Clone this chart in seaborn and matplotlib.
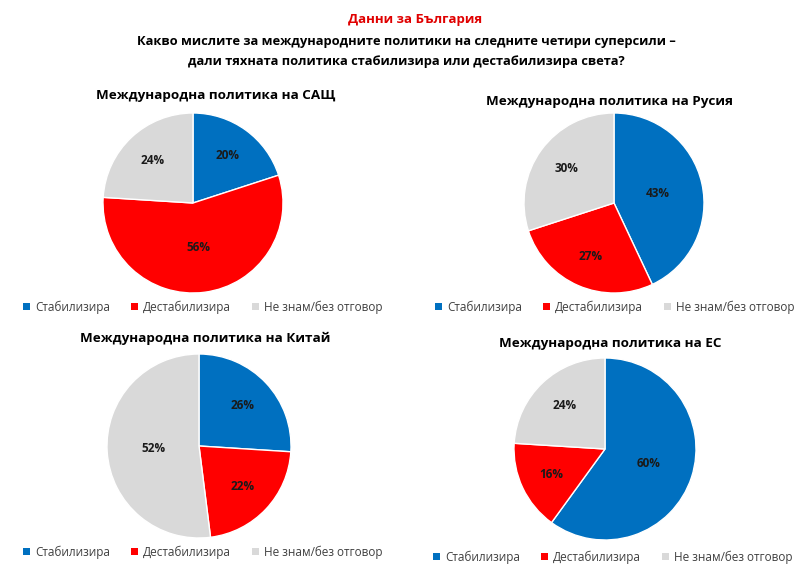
import matplotlib
matplotlib.use("Agg")
import matplotlib.pyplot as plt
import seaborn as sns
from matplotlib.patches import Patch

sns.set_theme(style="white")
plt.rcParams['font.family'] = ['Open Sans', 'DejaVu Sans']
plt.rcParams['text.color'] = 'black'

# данни
categories = ["Стабилизира", "Дестабилизира", "Не знам/без отговор"]
usa = [20, 56, 24]
russia = [43, 27, 30]
china = [26, 22, 52]
eu = [60, 16, 24]
titles = ["Международна политика на САЩ", "Международна политика на Русия",
          "Международна политика на Китай", "Международна политика на ЕС"]
colors = ["#0070C0", "#FF0000", "#D9D9D9"]

W, H = 809, 585
fig = plt.figure(figsize=(W / 100, H / 100), dpi=100)

fig.text(415 / W, 1 - 19 / H, "Данни за България", color="#E00000",
         fontsize=9.5, fontweight="bold", ha="center", va="center")
fig.text(406 / W, 1 - 42 / H, "Какво мислите за международните политики на следните четири суперсили –",
         fontsize=9.3, fontweight="bold", ha="center", va="center")
fig.text(406 / W, 1 - 62 / H, "дали тяхната политика стабилизира или дестабилизира света?",
         fontsize=9.3, fontweight="bold", ha="center", va="center")

# (cx, cy, r, title y, title x, legend y, legend x)
panels = [
    (usa, 193, 203, 90, 95, 216, 307, 203),
    (russia, 614, 203, 90, 101, 609, 307, 615),
    (china, 199, 446, 92, 338, 205, 552, 203),
    (eu, 605, 449, 91, 344, 610, 557, 613),
]

for (vals, cx, cy, r, ty, tx, ly, lx), title in zip(panels, titles):
    ax = fig.add_axes([(cx - r) / W, 1 - (cy + r) / H, 2 * r / W, 2 * r / H])
    wedges, texts, autotexts = ax.pie(
        vals, colors=colors, startangle=90, counterclock=False,
        autopct="%d%%", pctdistance=0.65,
        wedgeprops=dict(edgecolor="white", linewidth=1),
        textprops=dict(fontsize=8.5, fontweight="bold", color="#1a1a1a"))
    # големите сектори - етикетът по-близо до центъра
    for v, t in zip(vals, autotexts):
        if v > 40:
            x, y = t.get_position()
            t.set_position((x * 0.5 / 0.65, y * 0.5 / 0.65))
    ax.set_xlim(-1, 1)
    ax.set_ylim(-1, 1)
    ax.axis("off")
    fig.text(tx / W, 1 - ty / H, title, fontsize=9.7, fontweight="bold",
             ha="center", va="center")
    handles = [Patch(facecolor=c, edgecolor="none") for c in colors]
    fig.legend(handles, categories, loc="center", bbox_to_anchor=(lx / W, 1 - ly / H),
               ncol=3, frameon=False, fontsize=8.5, handlelength=0.6, handleheight=0.6,
               handletextpad=0.4, columnspacing=1.8, labelcolor="#404040")

fig.savefig("out.png", dpi=100)
